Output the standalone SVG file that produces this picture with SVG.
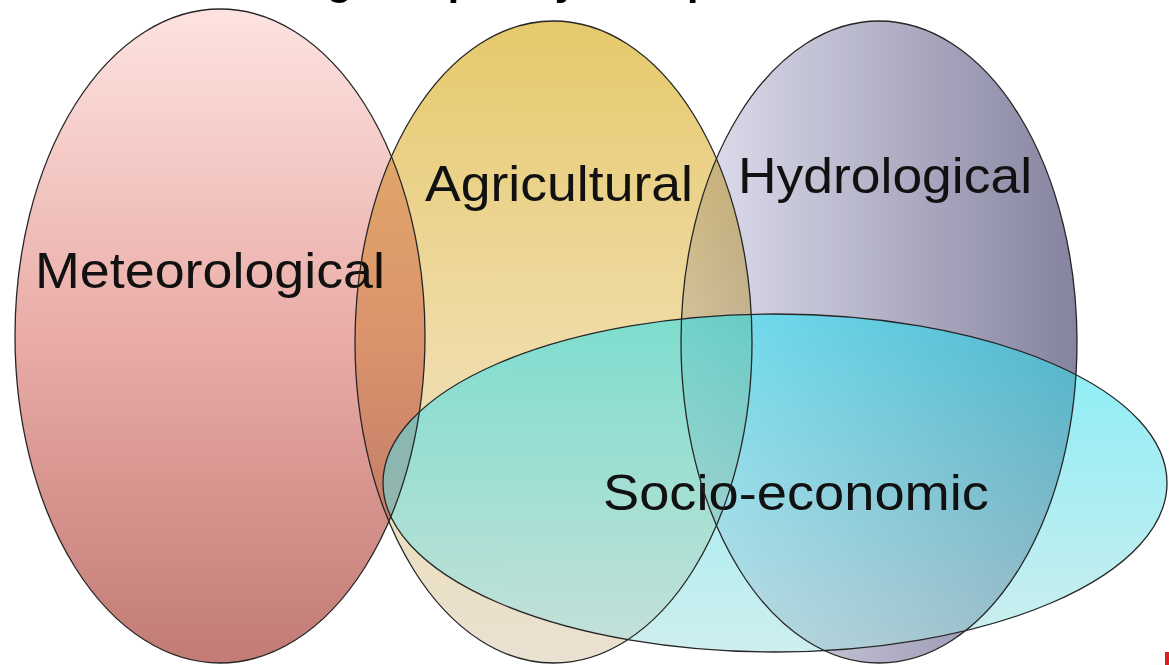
<svg xmlns="http://www.w3.org/2000/svg" xmlns:xlink="http://www.w3.org/1999/xlink" width="1169" height="665" viewBox="0 0 1169 665">
  <style>
    .label { font-family: "Liberation Sans", Arial, sans-serif; font-size: 50px; fill: #111; }
    .title { font-family: "Liberation Sans", Arial, sans-serif; font-size: 41px; font-weight: bold; fill: #000; }
    .outline { fill: none; stroke: #262626; stroke-width: 1.3; }
    .blend { mix-blend-mode: multiply; }
  </style>
  <defs>
    <linearGradient id="gMet" x1="0" y1="0" x2="0" y2="1">
      <stop offset="0" stop-color="#fde3e0"/>
      <stop offset="0.5" stop-color="#eaaca7"/>
      <stop offset="1" stop-color="#c27b75"/>
    </linearGradient>
    <linearGradient id="gAgr" x1="0" y1="0" x2="0" y2="1">
      <stop offset="0" stop-color="#e6c96c"/>
      <stop offset="0.5" stop-color="#efdba6"/>
      <stop offset="1" stop-color="#e9e1d2"/>
    </linearGradient>
    <linearGradient id="gHyd" x1="0" y1="0" x2="1" y2="0">
      <stop offset="0" stop-color="#e2e2f1"/>
      <stop offset="1" stop-color="#85839f"/>
    </linearGradient>
    <linearGradient id="gSoc" x1="0" y1="0" x2="0" y2="1">
      <stop offset="0" stop-color="#1ee0f2"/>
      <stop offset="1" stop-color="#a8e0e0"/>
    </linearGradient>
  </defs>

  <rect width="1169" height="665" fill="#ffffff"/>

  <!-- slide heading, mostly above the top edge -->
  <text class="title" x="147" y="-5">Increasing complexity of impacts and conflicts</text>

  <g id="meteorological">
    <ellipse cx="220" cy="336" rx="205" ry="327" fill="url(#gMet)"/>
    <text class="label" x="35" y="288" textLength="350" lengthAdjust="spacingAndGlyphs">Meteorological</text>
  </g>

  <g id="agricultural" class="blend">
    <ellipse cx="553.5" cy="342" rx="198.5" ry="321" fill="url(#gAgr)"/>
    <text class="label" x="425" y="201" textLength="268" lengthAdjust="spacingAndGlyphs">Agricultural</text>
  </g>

  <g id="hydrological" class="blend">
    <ellipse cx="879" cy="342" rx="198" ry="321" fill="url(#gHyd)"/>
    <text class="label" x="738" y="193" textLength="294" lengthAdjust="spacingAndGlyphs">Hydrological</text>
  </g>

  <g id="socio-economic">
    <ellipse cx="775" cy="483" rx="392" ry="169" fill="url(#gSoc)" fill-opacity="0.55"/>
    <text class="label" x="603" y="510" textLength="386" lengthAdjust="spacingAndGlyphs">Socio-economic</text>
  </g>

  <!-- ellipse borders stay crisp through every translucent fill -->
  <g id="outlines">
    <ellipse class="outline" cx="220" cy="336" rx="205" ry="327"/>
    <ellipse class="outline" cx="553.5" cy="342" rx="198.5" ry="321"/>
    <ellipse class="outline" cx="879" cy="342" rx="198" ry="321"/>
    <ellipse class="outline" cx="775" cy="483" rx="392" ry="169"/>
  </g>

  <rect x="1165" y="652" width="4" height="13" fill="#e02020"/>
</svg>
